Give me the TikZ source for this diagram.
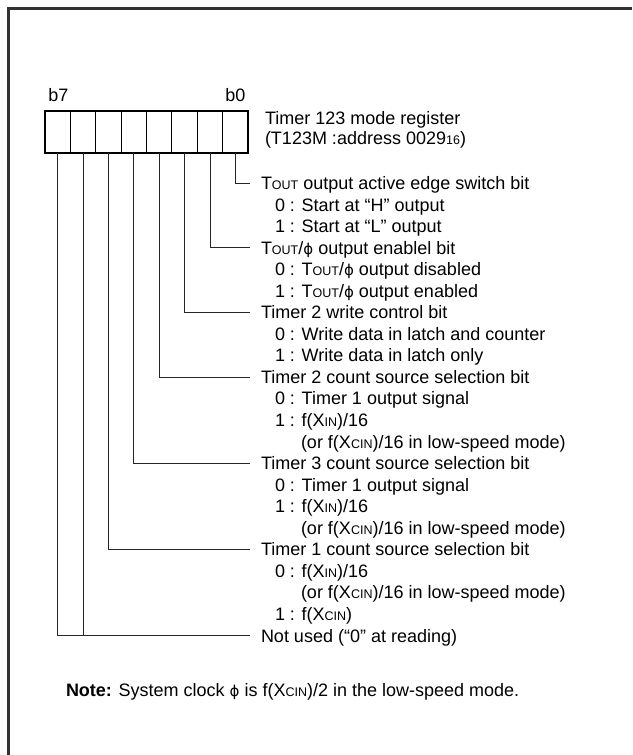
\documentclass[tikz,border=0pt]{standalone}
\usepackage{fontspec}
\setmainfont{Liberation Sans}
\newfontfamily\dejavu{DejaVu Sans}
\newcommand{\mainfs}{\fontsize{18}{21}\selectfont}
\newcommand{\smc}[1]{{\fontsize{12.5}{13}\selectfont #1}}
\newcommand{\ph}{{\dejavu\fontsize{15}{16}\selectfont ϕ}}
\begin{document}
\begin{tikzpicture}[x=1pt,y=-1pt,
  txt/.style={font=\mainfs, anchor=west, inner sep=0pt, outer sep=0pt, text height=12.9pt, text depth=0pt},
  cell/.style={draw, line width=1.2pt, minimum width=25.375pt, minimum height=42pt, inner sep=0pt, outer sep=0pt},
  lead/.style={line width=0.8pt, black!85}]
\useasboundingbox (0,0) rectangle (632,755);
\draw[line width=3pt, black!80] (8.5,755) -- (8.5,8.5) -- (632,8.5);
% register cells b7 ... b0
\node[cell] (c7) at (57.69,132) {};
\node[cell] (c6) at (83.06,132) {};
\node[cell] (c5) at (108.44,132) {};
\node[cell] (c4) at (133.81,132) {};
\node[cell] (c3) at (159.19,132) {};
\node[cell] (c2) at (184.56,132) {};
\node[cell] (c1) at (209.94,132) {};
\node[cell] (c0) at (235.31,132) {};
\draw[line width=2pt] (c7.north west) rectangle (c0.south east);
\node[txt, anchor=center] (lb7) at (58.5,95) {b7};
\node[txt, anchor=center] (lb0) at (235.3,95) {b0};
\node[txt] (t1) at (265,118) {Timer 123 mode register};
\node[txt] (t2) at (265,138.5) {(T123M :address 0029\smc{16})};
% descriptions
\node[txt] (h0) at (261,183) {T\smc{OUT} output active edge switch bit};
\node[txt] (s01) at (275,204.55) {0 : Start at “H” output};
\node[txt] (s02) at (275,226.1) {1 : Start at “L” output};
\node[txt] (h1) at (261,247.65) {T\smc{OUT}/\ph{} output enablel bit};
\node[txt] (s11) at (275,269.2) {0 : T\smc{OUT}/\ph{} output disabled};
\node[txt] (s12) at (275,290.75) {1 : T\smc{OUT}/\ph{} output enabled};
\node[txt] (h2) at (261,312.3) {Timer 2 write control bit};
\node[txt] (s21) at (275,333.85) {0 : Write data in latch and counter};
\node[txt] (s22) at (275,355.4) {1 : Write data in latch only};
\node[txt] (h3) at (261,376.95) {Timer 2 count source selection bit};
\node[txt] (s31) at (275,398.5) {0 : Timer 1 output signal};
\node[txt] (s32) at (275,420.05) {1 : f(X\smc{IN})/16};
\node[txt] (s33) at (301,441.6) {(or f(X\smc{CIN})/16 in low-speed mode)};
\node[txt] (h4) at (261,463.15) {Timer 3 count source selection bit};
\node[txt] (s41) at (275,484.7) {0 : Timer 1 output signal};
\node[txt] (s42) at (275,506.25) {1 : f(X\smc{IN})/16};
\node[txt] (s43) at (301,527.8) {(or f(X\smc{CIN})/16 in low-speed mode)};
\node[txt] (h5) at (261,549.35) {Timer 1 count source selection bit};
\node[txt] (s51) at (275,570.9) {0 : f(X\smc{IN})/16};
\node[txt] (s52) at (301,592.45) {(or f(X\smc{CIN})/16 in low-speed mode)};
\node[txt] (s53) at (275,614) {1 : f(X\smc{CIN})};
\node[txt] (nu) at (261,635.55) {Not used (“0” at reading)};
\node[txt] (note) at (66,690) {\textbf{Note:} System clock \ph{} is f(X\smc{CIN})/2 in the low-speed mode.};
% leaders
\draw[lead] (c0.south) |- ([xshift=-11pt]h0.west);
\draw[lead] (c1.south) |- ([xshift=-11pt]h1.west);
\draw[lead] (c2.south) |- ([xshift=-11pt]h2.west);
\draw[lead] (c3.south) |- ([xshift=-11pt]h3.west);
\draw[lead] (c4.south) |- ([xshift=-11pt]h4.west);
\draw[lead] (c5.south) |- ([xshift=-11pt]h5.west);
\draw[lead] (c6.south) |- ([xshift=-11pt]nu.west);
\draw[lead] (c7.south) |- ([xshift=-11pt]nu.west);
\end{tikzpicture}
\end{document}
